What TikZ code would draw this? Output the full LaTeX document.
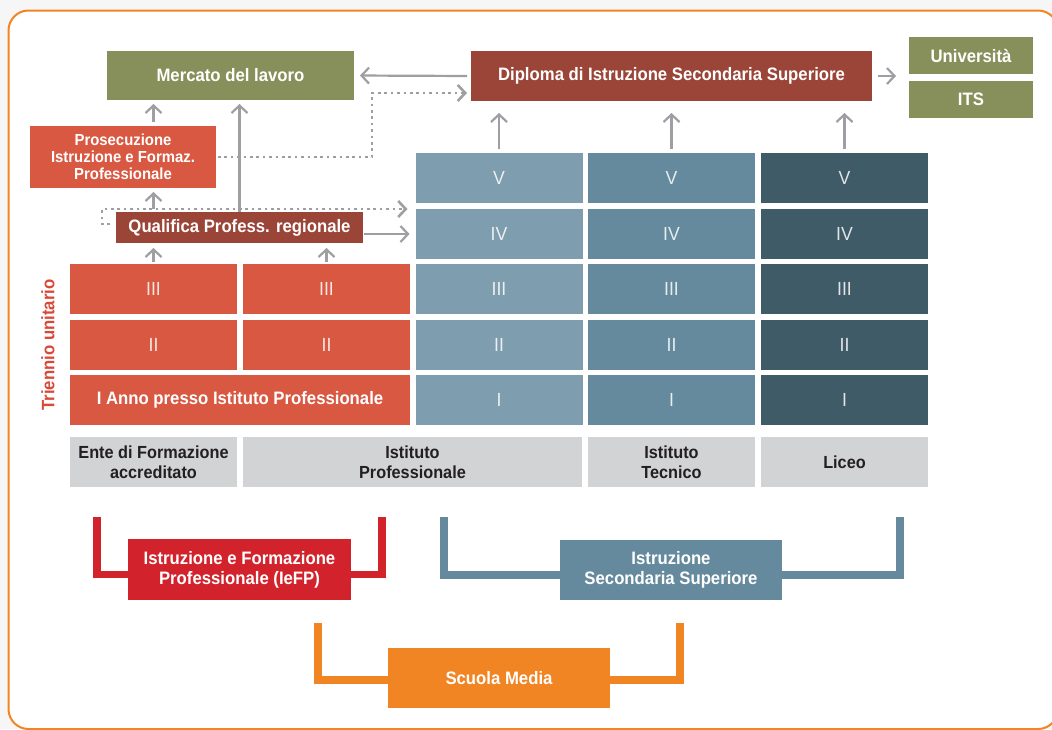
\documentclass[tikz,border=0pt]{standalone}
\usepackage{fontspec}
\setmainfont{Liberation Sans}[FakeStretch=0.93]
\usetikzlibrary{arrows.meta}
\usetikzlibrary{positioning}
\definecolor{olive}{HTML}{87905A}
\definecolor{dkred}{HTML}{9B4538}
\definecolor{orred}{HTML}{D95841}
\definecolor{bluea}{HTML}{7E9DAE}
\definecolor{blueb}{HTML}{658A9D}
\definecolor{bluec}{HTML}{3E5B67}
\definecolor{lgrey}{HTML}{D1D3D4}
\definecolor{iefpred}{HTML}{D2232C}
\definecolor{orng}{HTML}{F28523}
\definecolor{arrgrey}{HTML}{9D9FA2}
\definecolor{txtred}{HTML}{D9493A}
\definecolor{txtdark}{HTML}{231F20}

\begin{document}
\begin{tikzpicture}[x=1pt,y=-1pt,
  box/.style={fill=#1, text=white, font=\bfseries\fontsize{18}{20}\selectfont, inner sep=0pt, outer sep=0pt, align=center},
  cell/.style={fill=#1, text=white, text opacity=.85, font=\fontsize{19}{21}\selectfont, minimum width=167pt, minimum height=50pt, inner sep=0pt, outer sep=0pt},
  lbl/.style={fill=lgrey, text=txtdark, font=\bfseries\fontsize{17.5}{19.5}\selectfont, minimum height=50pt, inner sep=0pt, align=center},
  arr/.style={draw=arrgrey, line width=2.2pt, -{Straight Barb[length=7.5pt,width=16pt]}},
  dotarr/.style={arr, line width=2.6pt, dash pattern=on 2.6pt off 3.8pt},
  brk/.style={draw=#1, line width=7.5pt}]
\useasboundingbox (0,0) rectangle (1052,729);
\fill[gray!7] (0,0) rectangle (1052,729);
\draw[orng, line width=2pt, fill=white, rounded corners=20pt] (8.5,10.5) rectangle (1058,729);

% top row
\node[box=olive, minimum width=247pt, minimum height=49pt] (mercato) at (230.5,75.5) {Mercato del lavoro};
\node[box=dkred, minimum width=401pt, minimum height=50pt] (dipl) at (671.5,76) {Diploma di Istruzione Secondaria Superiore};
\node[box=olive, minimum width=124pt, minimum height=37pt] (univ) at (971,55.5) {Università};
\node[box=olive, minimum width=124pt, minimum height=37pt] (its) at (971,99.5) {ITS};
\node[box=orred, minimum width=186pt, minimum height=62pt, font=\bfseries\fontsize{16}{17}\selectfont] (prosec) at (123,157) {Prosecuzione\\Istruzione e Formaz.\\Professionale};
\node[box=dkred, minimum width=247pt, minimum height=31pt] (qual) at (239.5,227.5) {Qualifica Profess. regionale};

% grid of years
\foreach \col/\x/\clr in {ipb/499/bluea, tec/671.5/blueb, lic/844.5/bluec} {
  \foreach \r/\y/\num in {5/178/V, 4/234/IV, 3/289/III, 2/345/II, 1/400/I} {
    \node[cell=\clr] (\col\r) at (\x,\y) {\num};
  }
}
\foreach \col/\x in {efp/153.5, ipr/326.5} {
  \node[cell=orred] (\col3) at (\x,289) {III};
  \node[cell=orred] (\col2) at (\x,345) {II};
}
\node[cell=orred, minimum width=340pt, text opacity=1, font=\bfseries\fontsize{18}{20}\selectfont] (anno1) at (240,400) {I Anno presso Istituto Professionale};
\node[text=txtred, font=\bfseries\fontsize{18}{20}\selectfont, rotate=90] (trienn) at (48,345) {Triennio unitario};

% school types
\node[lbl, minimum width=167pt] (lente) at (153.5,462) {Ente di Formazione\\accreditato};
\node[lbl, minimum width=339pt] (lipr) at (412.5,462) {Istituto\\Professionale};
\node[lbl, minimum width=167pt] (ltec) at (671.5,462) {Istituto\\Tecnico};
\node[lbl, minimum width=167pt] (llic) at (844.5,462) {Liceo};

% brackets
\coordinate (rl) at (97,517);
\coordinate (rr) at (382,517);
\coordinate (bl) at (444,517);
\coordinate (br) at (900,517);
\coordinate (ol) at (318,623);
\coordinate (or) at (680,623);
\node[box=iefpred, minimum width=223pt, minimum height=61pt] (iefp) at (239.5,569.5) {Istruzione e Formazione\\Professionale (IeFP)};
\node[box=blueb, minimum width=222pt, minimum height=60pt] (iss) at (671,570) {Istruzione\\Secondaria Superiore};
\node[box=orng, minimum width=222pt, minimum height=60pt] (smedia) at (499,678) {Scuola Media};
\draw[brk=iefpred] (rl) |- ([yshift=-5pt]iefp.west);
\draw[brk=iefpred] (rr) |- ([yshift=-5pt]iefp.east);
\draw[brk=blueb] (bl) |- ([yshift=-5pt]iss.west);
\draw[brk=blueb] (br) |- ([yshift=-5pt]iss.east);
\draw[brk=orng] (ol) |- ([yshift=-2pt]smedia.west);
\draw[brk=orng] (or) |- ([yshift=-2pt]smedia.east);

% arrows
\draw[arr, shorten <=4pt, shorten >=6pt] (dipl.west) -- (mercato.east);
\draw[arr, shorten <=6pt, shorten >=13pt] (dipl.east) -- (dipl.east -| univ.west);
\draw[dotarr, shorten <=2pt, shorten >=4pt] (prosec.east) -- ++(156,0) |- ([yshift=8pt]dipl.south west);
\foreach \c in {ipb,tec,lic}
  \draw[arr, shorten <=4pt, shorten >=12pt] (\c5.north) -- (\c5.north |- dipl.south);
\draw[arr, shorten <=4pt, shorten >=4pt] (efp3.north |- prosec.north) -- (efp3.north |- mercato.south);
\draw[arr, shorten >=4pt] (qual.north) -- (qual.north |- mercato.south);
\draw[arr, shorten >=4pt] ([yshift=3pt]efp3.north |- qual.north) -- (efp3.north |- prosec.south);
\draw[dotarr, shorten >=8pt] ([xshift=-6pt,yshift=3.5pt]qual.west) -- ++(-8,0) |- (ipb4.north west);
\draw[arr, shorten <=1pt, shorten >=6pt] (qual.east |- ipb4.west) -- (ipb4.west);
\foreach \c in {efp,ipr}
  \draw[arr, shorten <=2pt, shorten >=5pt] (\c3.north) -- (\c3.north |- qual.south);
\end{tikzpicture}
\end{document}
